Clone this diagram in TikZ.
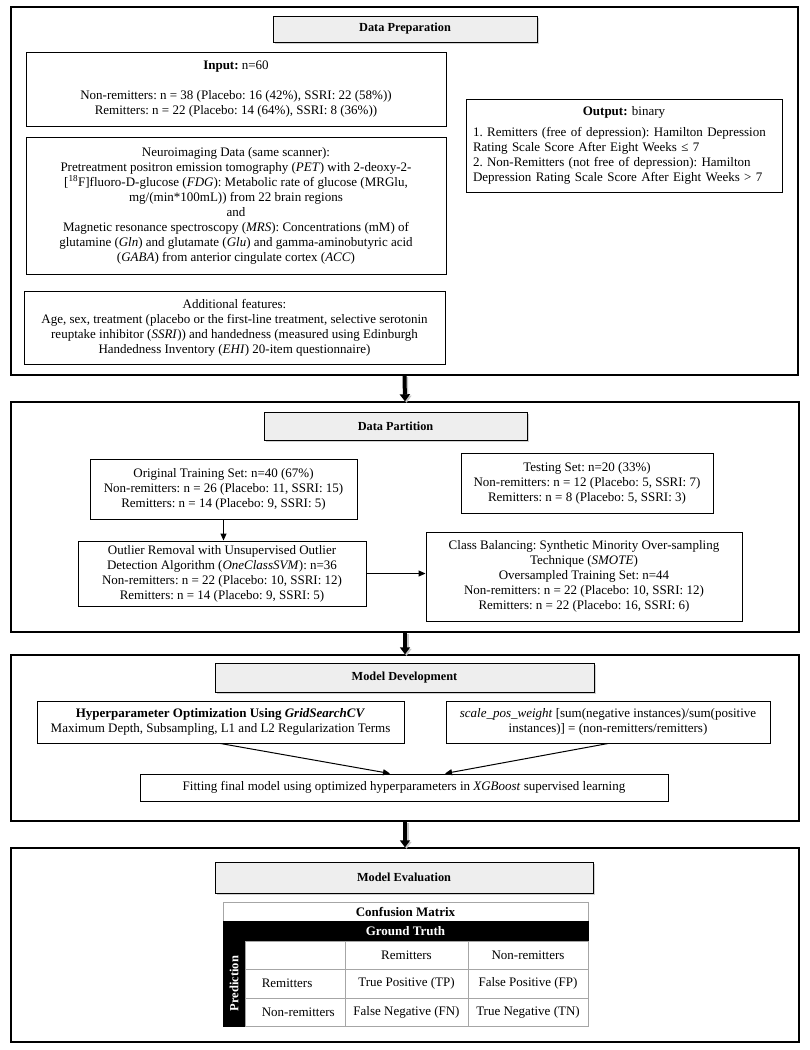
\documentclass[tikz,border=0pt]{standalone}
\usepackage{fontspec}
\setmainfont{Liberation Serif}
\usetikzlibrary{arrows.meta,shadows,calc}
\frenchspacing
\tikzstyle{panel}=[draw,line width=1.4pt,inner sep=0pt]
\tikzstyle{header}=[draw,line width=1pt,fill=gray!13,inner sep=0pt,font=\fontsize{12.3}{15}\selectfont\bfseries,drop shadow={shadow xshift=1.5pt,shadow yshift=-1.5pt,fill=gray!70}]
\tikzstyle{box}=[draw,line width=1pt,align=center,inner sep=0pt,font=\fontsize{13}{15}\selectfont]
\tikzstyle{edge}=[draw,line width=1pt,-{Triangle[width=6pt,length=7pt]}]
\tikzstyle{bigedge}=[draw,line width=4pt,-{Triangle[width=10pt,length=7pt]}]
\tikzstyle{bigshadow}=[bigedge,draw=gray!45]
\tikzstyle{cell}=[draw=gray!70,line width=0.8pt,inner sep=0pt,font=\fontsize{13}{15}\selectfont]
\tikzstyle{darkcell}=[cell,draw=black,fill=black,text=white,font=\fontsize{13}{15}\selectfont\bfseries]

\begin{document}
\begin{tikzpicture}[x=1pt,y=-1pt]
    \useasboundingbox (0,0) rectangle (810,1050);

    % Data preparation
    \node[panel,minimum width=787pt,minimum height=368pt] (prep) at (404.5,191) {};
    \node[header,minimum width=264pt,minimum height=26pt] (prephead) at (405,29) {Data Preparation};
    \node[box,minimum width=420pt,minimum height=74pt] (input) at (236,89)
        {\textbf{Input:} n=60\\[15pt]
         Non-remitters: n = 38 (Placebo: 16 (42\%), SSRI: 22 (58\%))\\
         Remitters: n = 22 (Placebo: 14 (64\%), SSRI: 8 (36\%))};
    \node[box,minimum width=420pt,minimum height=137pt] (neuro) at (236,205.5)
        {Neuroimaging Data (same scanner):\\
         Pretreatment positron emission tomography (\textit{PET}) with 2-deoxy-2-\\
         {[}\textsuperscript{18}F]fluoro-D-glucose (\textit{FDG}): Metabolic rate of glucose (MRGlu,\\
         mg/(min*100mL)) from 22 brain regions\\
         and\\
         Magnetic resonance spectroscopy (\textit{MRS}): Concentrations (mM) of\\
         glutamine (\textit{Gln}) and glutamate (\textit{Glu}) and gamma-aminobutyric acid\\
         (\textit{GABA}) from anterior cingulate cortex (\textit{ACC})};
    \node[box,minimum width=421pt,minimum height=73pt] (extra) at (234.5,327.5)
        {Additional features:\\
         Age, sex, treatment (placebo or the first-line treatment, selective serotonin\\
         reuptake inhibitor (\textit{SSRI})) and handedness (measured using Edinburgh\\
         Handedness Inventory (\textit{EHI}) 20-item questionnaire)};
    \node[box,align=left,text width=302pt,minimum width=316pt,minimum height=93pt] (output) at (624,145.5)
        {{\centering\textbf{Output:} binary\par}\vspace{6pt}
         1. Remitters (free of depression): Hamilton Depression\\
         Rating Scale Score After Eight Weeks ≤ 7\\
         2. Non-Remitters (not free of depression): Hamilton\\
         Depression Rating Scale Score After Eight Weeks > 7};

    % Data partition
    \node[panel,minimum width=788pt,minimum height=230pt] (part) at (405,517) {};
    \node[header,minimum width=263pt,minimum height=28pt] (parthead) at (395.5,426) {Data Partition};
    \node[box,minimum width=267pt,minimum height=60pt] (train) at (223.5,489)
        {Original Training Set: n=40 (67\%)\\
         Non-remitters: n = 26 (Placebo: 11, SSRI: 15)\\
         Remitters: n = 14 (Placebo: 9, SSRI: 5)};
    \node[box,minimum width=252pt,minimum height=60pt] (test) at (587,483)
        {Testing Set: n=20 (33\%)\\
         Non-remitters: n = 12 (Placebo: 5, SSRI: 7)\\
         Remitters: n = 8 (Placebo: 5, SSRI: 3)};
    \node[box,minimum width=288pt,minimum height=65pt] (outlier) at (222,573.5)
        {Outlier Removal with Unsupervised Outlier\\
         Detection Algorithm (\textit{OneClassSVM}): n=36\\
         Non-remitters: n = 22 (Placebo: 10, SSRI: 12)\\
         Remitters: n = 14 (Placebo: 9, SSRI: 5)};
    \node[box,minimum width=316pt,minimum height=89pt] (smote) at (584,576.5)
        {Class Balancing: Synthetic Minority Over-sampling\\
         Technique (\textit{SMOTE})\\
         Oversampled Training Set: n=44\\
         Non-remitters: n = 22 (Placebo: 10, SSRI: 12)\\
         Remitters: n = 22 (Placebo: 16, SSRI: 6)};
    \path[edge] (train.south) -- (train.south |- outlier.north);
    \path[edge] (outlier.east) -- (outlier.east -| smote.west);

    % Model development
    \node[panel,minimum width=788pt,minimum height=166pt] (dev) at (405,738) {};
    \node[header,minimum width=379pt,minimum height=29pt] (devhead) at (404.5,677.5) {Model Development};
    \node[box,minimum width=367pt,minimum height=42pt] (hyper) at (220.5,722)
        {\textbf{Hyperparameter Optimization Using \textit{GridSearchCV}}\\
         Maximum Depth, Subsampling, L1 and L2 Regularization Terms};
    \node[box,minimum width=324pt,minimum height=42pt] (weight) at (608,722)
        {\textit{scale\_pos\_weight} [sum(negative instances)/sum(positive\\
         instances)] = (non-remitters/remitters)};
    \node[box,minimum width=528pt,minimum height=27pt] (fit) at (404,787.5)
        {Fitting final model using optimized hyperparameters in \textit{XGBoost} supervised learning};
    \path[edge] (hyper.south) -- ([xshift=-14pt]fit.north);
    \path[edge] (weight.south) -- ([xshift=41pt]fit.north);

    % Model evaluation
    \node[panel,minimum width=788pt,minimum height=194pt] (eval) at (405,945) {};
    \node[header,minimum width=378pt,minimum height=31pt] (evalhead) at (404,877.5) {Model Evaluation};
    \node[cell,minimum width=365pt,minimum height=19pt,font=\fontsize{13}{15}\selectfont\bfseries] (cmtitle) at (405.5,911.5) {Confusion Matrix};
    \node[darkcell,minimum width=365pt,minimum height=20pt] (truth) at (405.5,931) {Ground Truth};
    \node[darkcell,rotate=90,minimum width=85pt,minimum height=22pt,font=\fontsize{12.5}{15}\selectfont\bfseries] (pred) at (234,983.5) {Prediction};
    \foreach \pos/\w/\h/\name/\txt in {{(295,955)/100/28/head0/{}},{(406.5,955)/123/28/head1/Remitters},{(528,955)/120/28/head2/Non-remitters},
        {(295,983.5)/100/29/rem0/{}},{(406.5,983.5)/123/29/rem1/True Positive (TP)},{(528,983.5)/120/29/rem2/False Positive (FP)},
        {(295,1012)/100/28/non0/{}},{(406.5,1012)/123/28/non1/False Negative (FN)},{(528,1012)/120/28/non2/True Negative (TN)}}
        \node[cell,minimum width=\w pt,minimum height=\h pt] (\name) at \pos {\txt};
    \node[anchor=west,inner sep=0pt,font=\fontsize{13}{15}\selectfont] (remlab) at ([xshift=17pt]rem0.west) {Remitters};
    \node[anchor=west,inner sep=0pt,font=\fontsize{13}{15}\selectfont] (nonlab) at ([xshift=17pt]non0.west) {Non-remitters};

    % Thick arrows between the stages
    \foreach \source/ \dest in {prep/part, part/dev, dev/eval} {
        \path[bigshadow] ([shift={(1.5,1.5)}]\source.south) -- ([shift={(1.5,1.5)}]\dest.north);
        \path[bigedge] (\source.south) -- (\dest.north);
    }
\end{tikzpicture}
\end{document}
